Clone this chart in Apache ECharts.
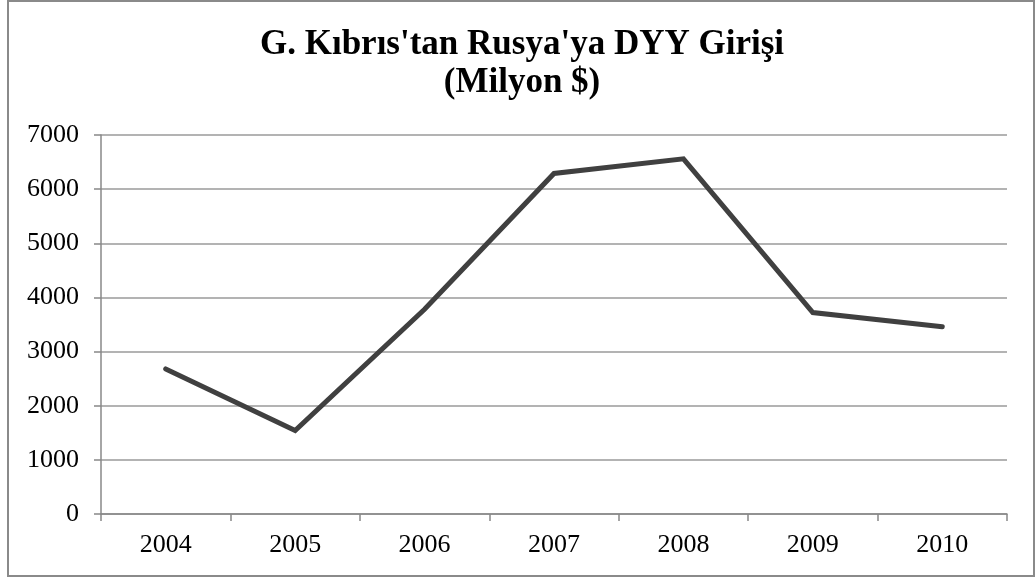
<!DOCTYPE html>
<html>
<head>
<meta charset="utf-8">
<script src="https://cdn.jsdelivr.net/npm/echarts@6/dist/echarts.min.js"></script>
<style>
  html, body { margin: 0; padding: 0; background: #fff; }
  #chart { width: 1036px; height: 578px; }
</style>
</head>
<body>
<div id="chart"></div>
<script>
  const years = ["2004", "2005", "2006", "2007", "2008", "2009", "2010"];
  const fdiValues = [2680, 1540, 3780, 6290, 6560, 3720, 3460];
  const titleText = "G. Kıbrıs'tan Rusya'ya DYY Girişi\n(Milyon $)";

  const serif = "'Liberation Serif', 'Times New Roman', serif";
  const chart = echarts.init(document.getElementById("chart"));

  chart.setOption({
    animation: false,
    backgroundColor: "#fff",
    title: {
      text: titleText,
      left: 522,
      top: 26,
      padding: 0,
      textAlign: "center",
      textStyle: {
        fontFamily: serif,
        fontWeight: "bold",
        fontSize: 35,
        lineHeight: 38,
        color: "#000"
      }
    },
    graphic: [{
      type: "rect",
      shape: { x: 8, y: 1, width: 1026, height: 575 },
      style: { fill: "none", stroke: "#8a8a8a", lineWidth: 2 },
      silent: true
    }],
    grid: { left: 101, right: 29, top: 135, bottom: 64 },
    xAxis: {
      type: "category",
      data: years,
      boundaryGap: true,
      axisLine: { lineStyle: { color: "#888", width: 1.5 } },
      axisTick: { show: true, interval: 0, length: 7, lineStyle: { color: "#888", width: 1.5 } },
      axisLabel: { fontFamily: serif, fontSize: 26, color: "#000", margin: 18 }
    },
    yAxis: {
      type: "value",
      min: 0,
      max: 7000,
      interval: 1000,
      axisLine: { show: true, lineStyle: { color: "#888", width: 1.5 } },
      axisTick: { show: true, length: 7, lineStyle: { color: "#888", width: 1.5 } },
      axisLabel: {
        fontFamily: serif, fontSize: 26, color: "#000", margin: 22,
        formatter: (v) => String(v)
      },
      splitLine: { lineStyle: { color: "#9a9a9a", width: 1.5 } }
    },
    series: [{
      type: "line",
      data: fdiValues,
      symbol: "none",
      lineStyle: { color: "#404040", width: 5, cap: "round", join: "miter" }
    }]
  });
</script>
</body>
</html>
